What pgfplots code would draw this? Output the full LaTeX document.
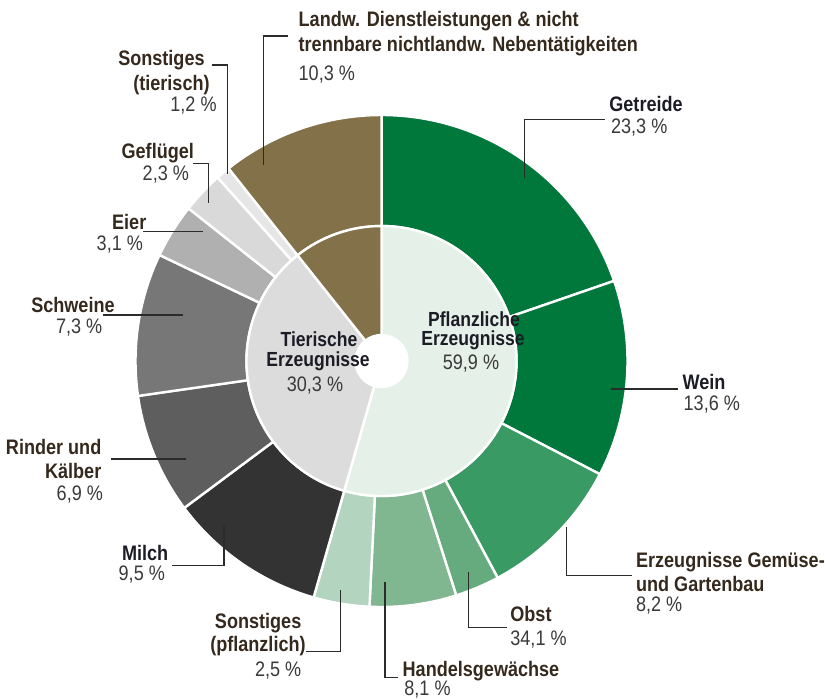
\documentclass[border=0pt]{standalone}
\usepackage{pgfplots}
\pgfplotsset{compat=1.18}
\usepackage{pgfplotstable}
\usetikzlibrary{calc}
\usepackage{fontspec}
\setmainfont{Liberation Sans}[FakeStretch=0.86]

\definecolor{cGetreide}{HTML}{00773B}
\definecolor{cWein}{HTML}{00773B}
\definecolor{cGemuese}{HTML}{3A9A63}
\definecolor{cObst}{HTML}{66AB7E}
\definecolor{cHandel}{HTML}{80B690}
\definecolor{cSonstP}{HTML}{B3D4BE}
\definecolor{cPflanz}{HTML}{E5F0E8}
\definecolor{cMilch}{HTML}{333333}
\definecolor{cRinder}{HTML}{5E5E5E}
\definecolor{cSchweine}{HTML}{777777}
\definecolor{cEier}{HTML}{B0B0B0}
\definecolor{cGefluegel}{HTML}{D9D9D9}
\definecolor{cSonstT}{HTML}{E6E6E6}
\definecolor{cTier}{HTML}{DCDCDC}
\definecolor{cLandw}{HTML}{83714A}
\definecolor{labc}{HTML}{35291D}
\definecolor{labkc}{HTML}{1C1C26}
\definecolor{valc}{HTML}{3A3A3A}
\definecolor{leadc}{HTML}{2B2B2B}

% outer ring: share of the full circle (percent), clockwise from 12 o'clock
\pgfplotstableread{
pct   col
19.72 cGetreide
12.89 cWein
9.56  cGemuese
2.92  cObst
5.69  cHandel
3.67  cSonstP
10.36 cMilch
7.92  cRinder
9.36  cSchweine
3.56  cEier
2.75  cGefluegel
0.92  cSonstT
10.69 cLandw
}\outerring

% inner ring
\pgfplotstableread{
pct   col
54.45 cPflanz
34.87 cTier
10.69 cLandw
}\innerring

\newcommand\drawring[3]{%
  \pgfplotstablegetrowsof{#1}%
  \pgfmathtruncatemacro\nrows{\pgfplotsretval-1}%
  \gdef\cum{0}%
  \pgfplotsforeachungrouped \i in {0,...,\nrows}{%
    \pgfplotstablegetelem{\i}{pct}\of{#1}\let\ppct\pgfplotsretval
    \pgfplotstablegetelem{\i}{col}\of{#1}\let\pcol\pgfplotsretval
    \pgfmathsetmacro\aA{90-3.6*\cum}%
    \pgfmathsetmacro\newcum{\cum+\ppct}%
    \pgfmathsetmacro\aB{90-3.6*\newcum}%
    \global\let\cum\newcum
    \edef\tmp{\noexpand\filldraw[fill=\pcol,draw=white,line width=1.2pt]
      ($(C)+(\aA:#2)$) -- ($(C)+(\aA:#3)$)
      arc[start angle=\aA,end angle=\aB,radius=#3]
      -- ($(C)+(\aB:#2)$)
      arc[start angle=\aB,end angle=\aA,radius=#2] -- cycle;}%
    \tmp
  }%
}

\newcommand\labfont{\fontsize{10.5}{12}\selectfont\bfseries}
\newcommand\valfont{\fontsize{10.5}{12}\selectfont}
\newcommand\cenfont{\fontsize{10.2}{12}\selectfont\bfseries}

\tikzset{
  lab/.style={font=\labfont, text=labc, inner sep=0pt},
  labK/.style={font=\labfont, text=labkc, inner sep=0pt},
  val/.style={font=\valfont, text=valc, inner sep=0pt},
  cen/.style={font=\cenfont, text=labkc, inner sep=0pt},
  cval/.style={font=\valfont, text=valc, inner sep=0pt},
  lead/.style={draw=leadc, line width=0.75pt}}

\begin{document}
\begin{tikzpicture}
\begin{axis}[hide axis, scale only axis, width=412.5pt, height=349pt,
  xmin=0, xmax=825, ymin=0, ymax=698, y dir=reverse, clip=false]
\coordinate (C) at (axis cs:381.5,361);
\drawring{\outerring}{67.5pt}{123pt}
\drawring{\innerring}{13pt}{67.5pt}

% leader lines
\draw[lead] (axis cs:263.3,165) -- (axis cs:263.3,36) -- (axis cs:288.3,36);
\draw[lead] (axis cs:211.7,65) -- (axis cs:227.7,65) -- (axis cs:227.7,174);
\draw[lead] (axis cs:193,163.3) -- (axis cs:208.3,163.3) -- (axis cs:208.3,202.7);
\draw[lead] (axis cs:143,231.7) -- (axis cs:202.7,231.7);
\draw[lead] (axis cs:103,315) -- (axis cs:182.7,315);
\draw[lead] (axis cs:111,459) -- (axis cs:186,459);
\draw[lead] (axis cs:171.7,565.7) -- (axis cs:224,565.7) -- (axis cs:224,526);
\draw[lead] (axis cs:306,651.7) -- (axis cs:340.5,651.7) -- (axis cs:340.5,590);
\draw[lead] (axis cs:385,582) -- (axis cs:385,677.3) -- (axis cs:398.3,677.3);
\draw[lead] (axis cs:468.3,571.7) -- (axis cs:468.3,627.3) -- (axis cs:506.7,627.3);
\draw[lead] (axis cs:566.7,526.7) -- (axis cs:566.7,575.7) -- (axis cs:632.3,575.7);
\draw[lead] (axis cs:610.7,389) -- (axis cs:678.3,389);
\draw[lead] (axis cs:524.3,178) -- (axis cs:524.3,119.3) -- (axis cs:605,119.3);

% labels
\node[lab,anchor=base west] at (axis cs:298.3,26) {Landw. Dienstleistungen \& nicht};
\node[lab,anchor=base west] at (axis cs:298.3,51.7) {trennbare nichtlandw. Nebentätigkeiten};
\node[val,anchor=base west] at (axis cs:298.3,80) {10,3 \%};

\node[lab,anchor=base east] at (axis cs:205,65) {Sonstiges};
\node[lab,anchor=base east] at (axis cs:210,90.7) {(tierisch)};
\node[val,anchor=base east] at (axis cs:217,111.7) {1,2 \%};

\node[lab,anchor=base east] at (axis cs:194.3,158.3) {Geflügel};
\node[val,anchor=base east] at (axis cs:189.3,180) {2,3 \%};

\node[lab,anchor=base east] at (axis cs:146.7,229) {Eier};
\node[val,anchor=base east] at (axis cs:143.3,250) {3,1 \%};

\node[lab,anchor=base east] at (axis cs:115,312.3) {Schweine};
\node[val,anchor=base east] at (axis cs:102.7,333.3) {7,3 \%};

\node[lab,anchor=base east] at (axis cs:101.7,454) {Rinder und};
\node[lab,anchor=base east] at (axis cs:101.7,478.3) {Kälber};
\node[val,anchor=base east] at (axis cs:103.3,500) {6,9 \%};

\node[labK,anchor=base west] at (axis cs:121.7,560) {Milch};
\node[val,anchor=base west] at (axis cs:118.3,580) {9,5 \%};

\node[lab,anchor=base east] at (axis cs:301.7,628.3) {Sonstiges};
\node[lab,anchor=base east] at (axis cs:306,651.7) {(pflanzlich)};
\node[val,anchor=base east] at (axis cs:301.7,676) {2,5 \%};

\node[lab,anchor=base west] at (axis cs:402.3,676.7) {Handelsgewächse};
\node[val,anchor=base west] at (axis cs:404,695) {8,1 \%};

\node[lab,anchor=base west] at (axis cs:510,621.7) {Obst};
\node[val,anchor=base west] at (axis cs:510,645) {34,1 \%};

\node[lab,anchor=base west] at (axis cs:635.7,567.3) {Erzeugnisse Gemüse-};
\node[lab,anchor=base west] at (axis cs:635.7,591.7) {und Gartenbau};
\node[val,anchor=base west] at (axis cs:635.7,611.7) {8,2 \%};

\node[labK,anchor=base west] at (axis cs:682.3,389) {Wein};
\node[val,anchor=base west] at (axis cs:683.3,410) {13,6 \%};

\node[labK,anchor=base west] at (axis cs:609,111.7) {Getreide};
\node[val,anchor=base west] at (axis cs:610.7,133.3) {23,3 \%};

% centre labels
\node[cen,anchor=base] at (axis cs:474,326) {Pflanzliche};
\node[cen,anchor=base] at (axis cs:473,345) {Erzeugnisse};
\node[cval,anchor=base] at (axis cs:471,369.3) {59,9 \%};
\node[cen,anchor=base] at (axis cs:319,346.7) {Tierische};
\node[cen,anchor=base] at (axis cs:318,366) {Erzeugnisse};
\node[cval,anchor=base] at (axis cs:315,391.7) {30,3 \%};
\end{axis}
\pgfresetboundingbox
\path (0,0) rectangle (412.5pt,349pt);
\end{tikzpicture}
\end{document}
